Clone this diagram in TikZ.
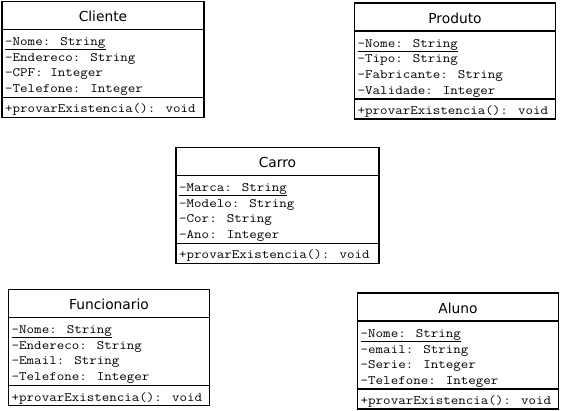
\documentclass[tikz,border=0pt]{standalone}
\usepackage{fontspec}
\usetikzlibrary{calc}
\newfontfamily\titlefont{DejaVu Sans}
\newfontfamily\attrfont[FakeStretch=1.14]{Latin Modern Mono}
\tikzset{
  boxline/.style={line width=1.8pt, black},
  classtitle/.style={font=\titlefont\fontsize{13.8}{15}\selectfont, inner sep=0pt, anchor=center},
  attr/.style={font=\attrfont\fontsize{12.8}{14}\selectfont, inner sep=0pt, anchor=base west},
  uline/.style={line width=0.8pt, black},
}
% #1 name, #2 left x, #3 top y, #4 width, #5 title, #6-#9 attributes
\newcommand{\umlbox}[9]{%
  \coordinate (#1-nw) at (#2,#3);
  \coordinate (#1-se) at ($(#2,#3)+(#4,116)$);
  \draw[boxline] (#1-nw) rectangle (#1-se);
  \draw[boxline] ($(#1-nw)+(0,28)$) -- ($(#1-nw)+(#4,28)$);
  \draw[boxline] ($(#1-nw)+(0,96)$) -- ($(#1-nw)+(#4,96)$);
  \node[classtitle] (#1-title) at ($(#1-nw)+(0.5*#4,15)$) {#5};
  \node[attr] (#1-a1) at ($(#1-nw)+(3,44.5)$) {#6};
  \node[attr] (#1-a2) at ($(#1-nw)+(3,60)$) {#7};
  \node[attr] (#1-a3) at ($(#1-nw)+(3,75.5)$) {#8};
  \node[attr] (#1-a4) at ($(#1-nw)+(3,91.5)$) {#9};
  \node[attr] (#1-m1) at ($(#1-nw)+(3,111.5)$) {+provarExistencia(): void};
  \draw[uline] ($(#1-a1.base west)+(0,3.5)$) -- ($(#1-a1.base east)+(0,3.5)$);
}
\begin{document}
\begin{tikzpicture}[x=1pt,y=-1pt]
\useasboundingbox (0,0) rectangle (562,411);
\umlbox{cliente}{2}{1.5}{202}{Cliente}{-Nome: String}{-Endereco: String}{-CPF: Integer}{-Telefone: Integer}
\umlbox{produto}{354.5}{3}{201}{Produto}{-Nome: String}{-Tipo: String}{-Fabricante: String}{-Validade: Integer}
\umlbox{carro}{176}{147.5}{203}{Carro}{-Marca: String}{-Modelo: String}{-Cor: String}{-Ano: Integer}
\umlbox{funcionario}{8.5}{289.5}{201}{Funcionario}{-Nome: String}{-Endereco: String}{-Email: String}{-Telefone: Integer}
\umlbox{aluno}{357.5}{293}{201}{Aluno}{-Nome: String}{-email: String}{-Serie: Integer}{-Telefone: Integer}
\end{tikzpicture}
\end{document}
